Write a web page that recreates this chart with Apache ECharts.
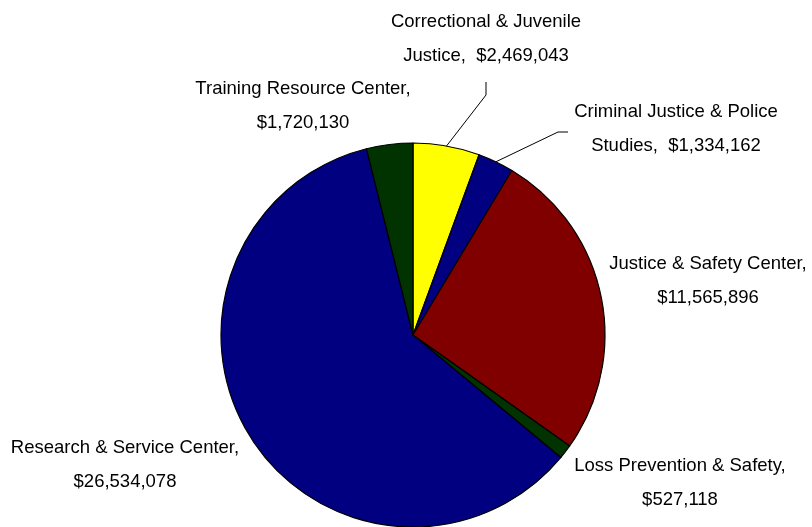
<!DOCTYPE html>
<html>
<head>
<meta charset="utf-8">
<script src="https://cdn.jsdelivr.net/npm/echarts@6/dist/echarts.min.js"></script>
<style>
html,body{margin:0;padding:0;background:#fff;}
#chart{width:812px;height:527px;}
</style>
</head>
<body>
<div id="chart"></div>
<script>
// Data
const categories = [
  'Correctional & Juvenile\nJustice',
  'Criminal Justice & Police\nStudies',
  'Justice & Safety Center',
  'Loss Prevention & Safety',
  'Research & Service Center',
  'Training Resource Center'
];
const values = [2469043, 1334162, 11565896, 527118, 26534078, 1720130];
const colors = ['#FFFF00', '#000080', '#800000', '#003300', '#000080', '#003300'];

// Label layout (text block centres) and leader-line offsets
const labelPos = [
  [486, 38.5], [676, 128.5], [708, 280.5], [680, 482.5], [125, 464.5], [303, 105.5]
];
const leaderOffsets = {
  0: [[0, 56.5], [0, 43.5]],
  1: [[-118, 3.5], [-108, 3.5]]
};

function money(v) {
  return '$' + v.toLocaleString('en-US');
}

const chart = echarts.init(document.getElementById('chart'), null, {renderer: 'canvas'});
chart.setOption({
  animation: false,
  backgroundColor: '#ffffff',
  series: [{
    type: 'pie',
    center: [413, 335],
    radius: 192,
    startAngle: 90,
    clockwise: true,
    avoidLabelOverlap: false,
    itemStyle: {borderColor: '#000', borderWidth: 1.2},
    label: {
      show: true,
      position: 'outside',
      color: '#000',
      fontFamily: 'Liberation Sans, Arial, sans-serif',
      fontSize: 18.5,
      lineHeight: 34,
      align: 'center',
      formatter: function (p) {
        const sep = p.name.indexOf('\n') >= 0 ? ',  ' : ',\n';
        return p.name + sep + money(p.value);
      }
    },
    labelLine: {show: true, lineStyle: {color: '#000', width: 1}},
    labelLayout: function (params) {
      const i = params.dataIndex;
      const pos = labelPos[i];
      const out = {x: pos[0], y: pos[1], align: 'center', verticalAlign: 'middle'};
      if (leaderOffsets[i] && params.labelLinePoints) {
        const start = params.labelLinePoints[0];
        out.labelLinePoints = [start].concat(leaderOffsets[i].map(o => [pos[0] + o[0], pos[1] + o[1]]));
      }
      return out;
    },
    data: categories.map((c, i) => ({
      name: c,
      value: values[i],
      itemStyle: {color: colors[i]},
      labelLine: {show: !!leaderOffsets[i]}
    }))
  }]
});
</script>
</body>
</html>
